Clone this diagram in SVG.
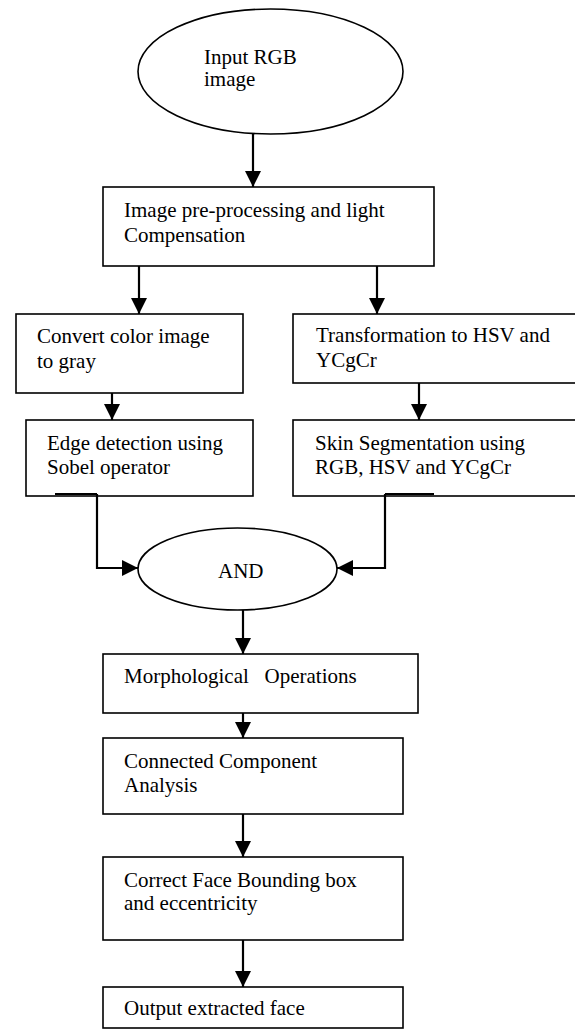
<svg xmlns="http://www.w3.org/2000/svg" width="575" height="1031" viewBox="0 0 575 1031">
<defs>
<marker id="ah" markerUnits="userSpaceOnUse" markerWidth="16" markerHeight="16" viewBox="0 0 14 14" refX="14" refY="7" orient="auto">
<path d="M0,0 L14,7 L0,14 Z" fill="#000"/>
</marker>
</defs>
<style>
.box{fill:#fff;stroke:#000;stroke-width:1.6}
.t{font-family:"Liberation Serif","Times New Roman",serif;font-size:21px;fill:#000}
.c{fill:none;stroke:#000;stroke-width:2.2}
.a{marker-end:url(#ah)}
</style>
<rect width="575" height="1031" fill="#fff"/>
<g id="n1"><ellipse class="box" cx="270.5" cy="71.5" rx="132.5" ry="62.5"/><text class="t" x="204" y="64">Input RGB</text><text class="t" x="204" y="86">image</text></g>
<g id="n2"><rect class="box" x="103" y="187" width="331" height="79"/><text class="t" x="124" y="217">Image pre-processing and light</text><text class="t" x="124" y="242">Compensation</text></g>
<g id="n3"><rect class="box" x="16" y="314" width="227" height="79"/><text class="t" x="37" y="343">Convert color image</text><text class="t" x="37" y="368">to gray</text></g>
<g id="n4"><rect class="box" x="293" y="314" width="290" height="69"/><text class="t" x="316" y="342">Transformation to HSV and</text><text class="t" x="316" y="367">YCgCr</text></g>
<g id="n5"><rect class="box" x="26" y="420" width="227" height="76"/><text class="t" x="47" y="450">Edge detection using</text><text class="t" x="47" y="474">Sobel operator</text></g>
<g id="n6"><rect class="box" x="293" y="420" width="290" height="76"/><text class="t" x="315" y="450">Skin Segmentation using</text><text class="t" x="315" y="474">RGB, HSV and YCgCr</text></g>
<g id="n7"><ellipse class="box" cx="237.5" cy="569" rx="99.5" ry="41"/><text class="t" x="218" y="578">AND</text></g>
<g id="n8"><rect class="box" x="103" y="654" width="315" height="59"/><text class="t" x="124" y="683" xml:space="preserve">Morphological   Operations</text></g>
<g id="n9"><rect class="box" x="103" y="738" width="300" height="76"/><text class="t" x="124" y="768">Connected Component</text><text class="t" x="124" y="792">Analysis</text></g>
<g id="n10"><rect class="box" x="103" y="857" width="300" height="83"/><text class="t" x="124" y="887">Correct Face Bounding box</text><text class="t" x="124" y="910">and eccentricity</text></g>
<g id="n11"><rect class="box" x="103" y="987" width="300" height="41"/><text class="t" x="124" y="1015">Output extracted face</text></g>
<g id="connectors">
<line class="c a" x1="253" y1="134" x2="253" y2="187"/>
<line class="c a" x1="139" y1="266" x2="139" y2="314"/>
<line class="c a" x1="377" y1="266" x2="377" y2="314"/>
<line class="c a" x1="112" y1="393" x2="112" y2="420"/>
<line class="c a" x1="419" y1="383" x2="419" y2="420"/>
<line class="c" x1="55" y1="494" x2="97" y2="494" stroke-width="3"/>
<polyline class="c a" points="97,494 97,568 138,568"/>
<line class="c" x1="385" y1="494" x2="434" y2="494" stroke-width="3"/>
<polyline class="c a" points="385,494 385,568 337,568"/>
<line class="c a" x1="243" y1="610" x2="243" y2="654"/>
<line class="c a" x1="243" y1="713" x2="243" y2="738"/>
<line class="c a" x1="243" y1="814" x2="243" y2="857"/>
<line class="c a" x1="243" y1="940" x2="243" y2="987"/>
</g>
</svg>
